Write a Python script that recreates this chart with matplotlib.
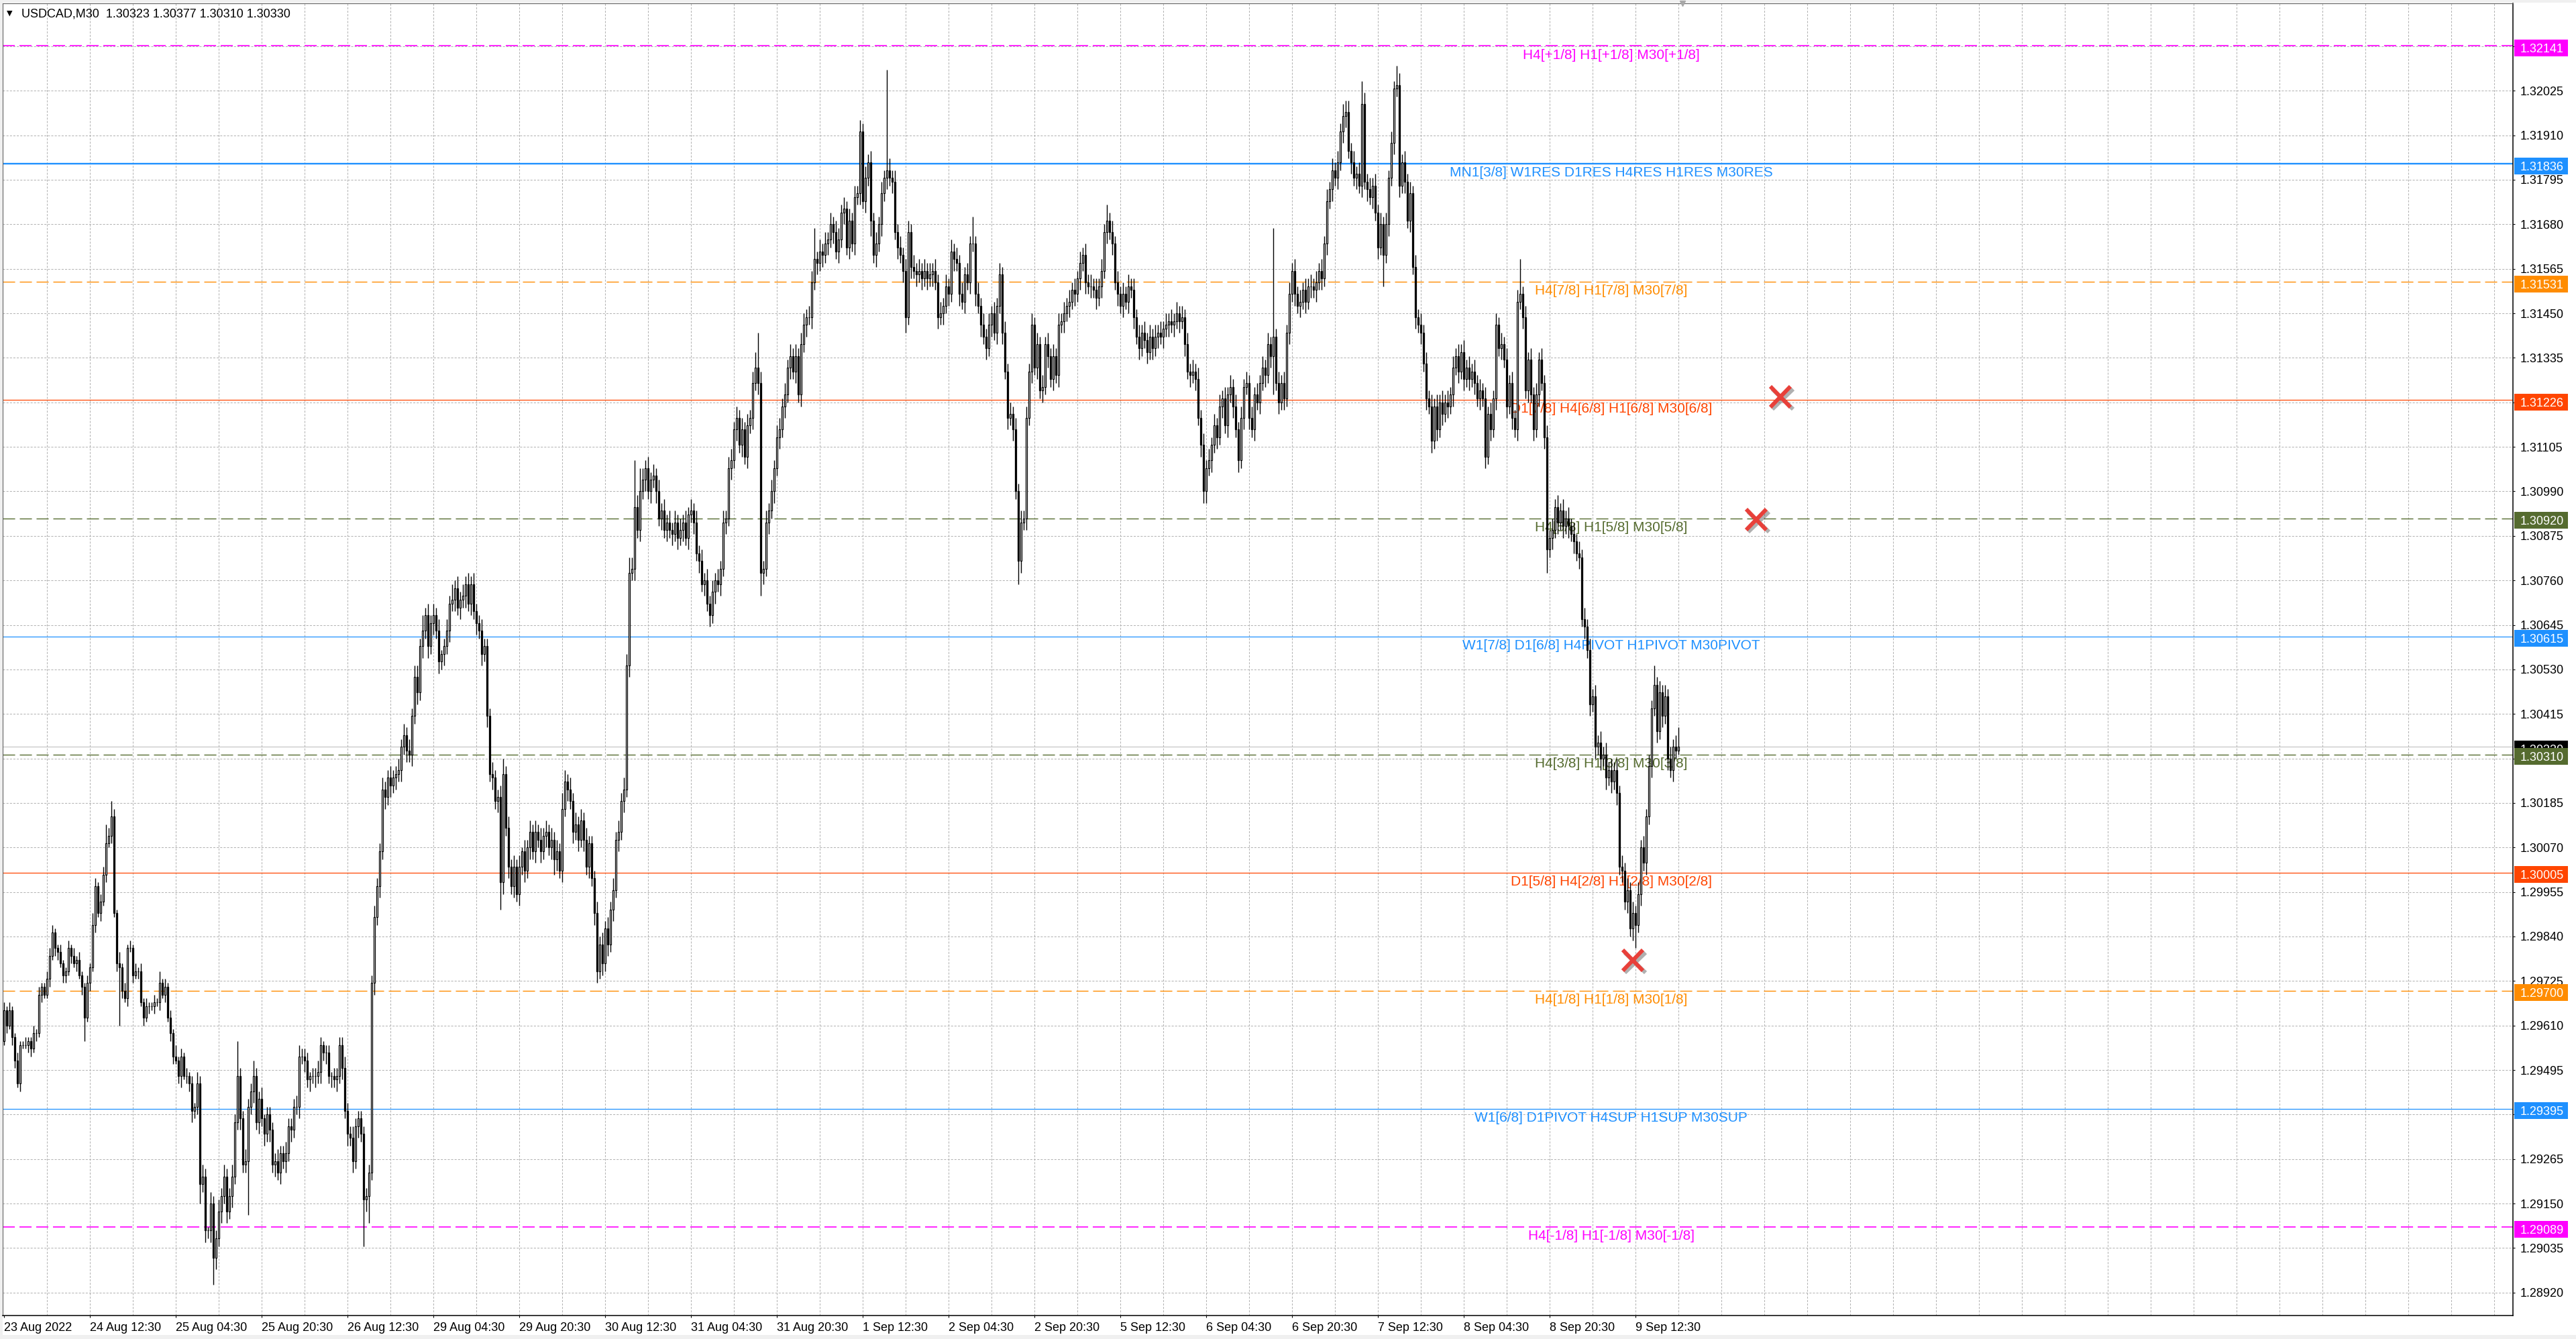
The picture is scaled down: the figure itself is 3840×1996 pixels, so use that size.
import numpy as np
import matplotlib
matplotlib.use("Agg")
import matplotlib.pyplot as plt
import matplotlib.transforms as mtransforms
import matplotlib.patheffects as pe
from matplotlib.patches import Rectangle
from matplotlib.collections import LineCollection

plt.rcParams['font.family'] = ['Liberation Sans', 'DejaVu Sans']
plt.rcParams['lines.scale_dashes'] = False

# ---------------- data ----------------
header = "USDCAD,M30  1.30323 1.30377 1.30310 1.30330"

# M30 closes in pips above 1.28000 (bar 0 = 23 Aug 20:30)
first_open = 157
close_pips = [
    165, 161, 165, 158, 152, 146, 156, 156, 156, 157, 155, 159, 159, 169, 171, 169, 173, 179, 185, 181, 180, 177, 174, 175, 181,
    179, 177, 178, 174, 171, 163, 172, 176, 187, 197, 190, 193, 200, 208, 210, 215, 190, 177, 176, 170, 168, 181, 181, 174, 175,
    175, 167, 163, 166, 166, 166, 167, 167, 172, 169, 171, 163, 159, 153, 152, 148, 153, 148, 148, 146, 139, 140, 146, 120, 122,
    108, 108, 115, 101, 106, 113, 117, 122, 113, 117, 122, 136, 148, 137, 125, 126, 140, 144, 148, 136, 142, 137, 133, 138, 134,
    125, 126, 123, 128, 126, 128, 135, 134, 140, 140, 153, 153, 152, 147, 148, 148, 148, 149, 156, 154, 154, 148, 148, 147, 148,
    156, 150, 139, 133, 132, 126, 135, 137, 133, 116, 117, 123, 172, 189, 197, 206, 222, 220, 225, 223, 225, 226, 227, 233, 236,
    232, 231, 241, 251, 247, 259, 263, 267, 259, 265, 267, 263, 255, 257, 259, 263, 270, 271, 274, 269, 271, 272, 275, 270, 275,
    268, 265, 263, 257, 259, 241, 226, 225, 219, 220, 198, 226, 212, 202, 197, 202, 195, 202, 206, 201, 207, 211, 206, 211, 209,
    206, 210, 211, 207, 209, 204, 206, 201, 217, 224, 222, 219, 211, 213, 209, 214, 209, 202, 208, 199, 190, 175, 182, 177, 186,
    182, 191, 196, 209, 211, 219, 222, 254, 278, 279, 295, 289, 299, 302, 305, 299, 302, 303, 299, 292, 294, 289, 291, 289, 288,
    291, 287, 289, 291, 287, 293, 294, 291, 283, 281, 275, 276, 270, 267, 273, 276, 275, 279, 291, 292, 305, 307, 315, 318, 311,
    315, 308, 316, 318, 327, 331, 327, 278, 279, 291, 294, 299, 305, 313, 315, 321, 324, 331, 334, 330, 334, 324, 337, 342, 344,
    344, 353, 359, 358, 361, 360, 363, 364, 368, 366, 361, 364, 371, 372, 362, 369, 363, 375, 376, 392, 374, 380, 384, 369, 360,
    363, 368, 376, 380, 382, 380, 379, 366, 362, 360, 356, 344, 366, 357, 356, 355, 356, 354, 356, 354, 355, 356, 353, 344, 345,
    347, 352, 350, 361, 359, 358, 350, 348, 355, 353, 363, 363, 350, 347, 342, 339, 336, 342, 345, 340, 347, 355, 340, 330, 318,
    319, 315, 299, 281, 291, 292, 318, 330, 342, 331, 337, 325, 326, 337, 334, 328, 334, 329, 342, 343, 345, 347, 348, 351, 350,
    354, 358, 360, 353, 352, 352, 351, 349, 352, 356, 366, 369, 366, 363, 353, 350, 347, 350, 348, 352, 351, 344, 339, 336, 340,
    338, 335, 339, 336, 339, 340, 339, 341, 342, 343, 342, 343, 345, 343, 344, 337, 330, 329, 330, 328, 318, 311, 299, 305, 307,
    311, 316, 313, 321, 323, 316, 324, 326, 321, 315, 307, 318, 326, 327, 318, 315, 324, 322, 327, 331, 329, 337, 334, 339, 327,
    322, 327, 323, 340, 350, 356, 350, 347, 348, 351, 348, 352, 352, 351, 353, 356, 354, 363, 374, 377, 382, 380, 384, 392, 396,
    397, 387, 384, 380, 381, 378, 399, 379, 377, 375, 378, 371, 362, 368, 360, 368, 380, 389, 403, 404, 378, 384, 379, 369, 376,
    357, 344, 342, 340, 332, 323, 321, 312, 321, 315, 322, 319, 322, 321, 324, 331, 334, 330, 335, 328, 331, 328, 330, 327, 323,
    325, 323, 308, 319, 315, 323, 342, 336, 337, 333, 321, 327, 318, 315, 348, 350, 344, 325, 333, 324, 315, 324, 333, 327, 313,
    284, 287, 289, 295, 291, 294, 290, 292, 290, 288, 286, 283, 282, 266, 264, 258, 244, 246, 233, 234, 230, 231, 225, 227, 224,
    227, 221, 202, 201, 193, 196, 186, 190, 187, 195, 207, 203, 215, 228, 243, 249, 237, 247, 241, 246, 230, 227, 233, 232, 233,
]

# wick lengths beyond the candle body, in pips
upper_wick = [
    2, 1, 2, 1, 1, 2, 1, 1, 2, 1, 1, 2, 1, 2, 1, 1, 2, 2, 2, 1, 1, 2, 1, 1, 2,
    1, 2, 1, 2, 1, 1, 2, 1, 3, 2, 1, 2, 2, 5, 2, 4, 2, 1, 3, 1, 2, 1, 2, 1, 2,
    1, 2, 1, 2, 1, 1, 2, 1, 3, 1, 2, 1, 2, 1, 3, 1, 2, 1, 2, 1, 2, 1, 3, 2, 3,
    2, 1, 3, 2, 2, 3, 2, 3, 2, 2, 3, 2, 9, 2, 2, 3, 2, 2, 4, 2, 2, 3, 1, 2, 2,
    2, 2, 3, 2, 2, 3, 2, 2, 2, 3, 3, 2, 2, 2, 1, 2, 2, 3, 2, 1, 2, 2, 1, 2, 2,
    2, 2, 3, 2, 2, 3, 2, 2, 2, 2, 2, 2, 2, 3, 2, 2, 3, 2, 2, 3, 2, 2, 3, 2, 3,
    2, 3, 2, 3, 3, 2, 4, 2, 3, 2, 3, 2, 3, 1, 2, 3, 2, 4, 2, 3, 2, 3, 2, 3, 2,
    3, 2, 2, 3, 2, 2, 2, 3, 2, 2, 3, 4, 2, 3, 2, 3, 2, 3, 1, 3, 2, 3, 2, 3, 2,
    3, 2, 3, 2, 3, 2, 3, 2, 4, 3, 2, 3, 2, 3, 2, 3, 2, 3, 2, 2, 2, 3, 2, 3, 2,
    3, 2, 3, 2, 3, 2, 3, 3, 4, 3, 12, 3, 6, 3, 2, 3, 2, 3, 2, 3, 2, 3, 2, 3, 2,
    3, 2, 3, 2, 3, 2, 3, 2, 3, 2, 3, 2, 3, 2, 3, 2, 3, 2, 3, 2, 3, 3, 2, 3, 2,
    3, 2, 3, 2, 3, 4, 9, 3, 2, 3, 2, 3, 2, 3, 3, 2, 3, 2, 3, 2, 3, 2, 3, 3, 2,
    3, 3, 8, 2, 3, 2, 3, 2, 3, 2, 3, 3, 2, 3, 2, 3, 2, 3, 2, 3, 2, 3, 2, 3, 2,
    3, 2, 3, 2, 26, 3, 2, 3, 2, 3, 2, 3, 3, 2, 3, 2, 3, 2, 3, 2, 3, 2, 3, 2, 3,
    2, 3, 2, 3, 2, 3, 2, 3, 2, 3, 2, 7, 2, 3, 2, 3, 2, 3, 2, 3, 2, 3, 2, 3, 2,
    3, 2, 3, 2, 3, 2, 3, 2, 3, 2, 3, 2, 3, 2, 3, 2, 3, 2, 3, 2, 3, 2, 3, 2, 3,
    2, 3, 2, 3, 2, 3, 2, 3, 2, 3, 2, 4, 2, 3, 2, 3, 2, 3, 2, 3, 2, 3, 2, 3, 2,
    3, 2, 3, 2, 3, 2, 3, 2, 3, 2, 3, 2, 3, 2, 3, 2, 3, 2, 3, 2, 3, 2, 3, 2, 3,
    2, 3, 2, 3, 2, 3, 2, 3, 2, 3, 2, 3, 2, 3, 2, 3, 2, 3, 2, 3, 2, 3, 2, 28, 2,
    3, 2, 3, 2, 3, 2, 3, 2, 3, 2, 3, 2, 3, 2, 3, 2, 3, 2, 3, 2, 3, 2, 3, 2, 3,
    3, 3, 2, 3, 2, 3, 6, 3, 2, 3, 2, 3, 2, 3, 2, 3, 2, 3, 2, 5, 3, 2, 3, 2, 3,
    2, 3, 2, 3, 2, 3, 2, 3, 2, 3, 2, 3, 2, 3, 2, 3, 2, 3, 2, 3, 2, 3, 2, 3, 2,
    3, 2, 3, 2, 3, 2, 3, 2, 3, 2, 3, 2, 3, 2, 3, 9, 2, 3, 2, 3, 2, 3, 2, 3, 2,
    3, 2, 3, 2, 3, 2, 3, 2, 3, 2, 3, 2, 3, 2, 3, 2, 3, 2, 3, 2, 3, 2, 3, 2, 3,
    2, 3, 2, 3, 2, 3, 2, 3, 2, 3, 2, 3, 2, 3, 2, 5, 2, 3, 2, 3, 2, 3, 2, 3, 5,
]
lower_wick = [
    1, 2, 1, 2, 2, 1, 2, 1, 1, 2, 2, 1, 2, 1, 2, 1, 1, 2, 1, 2, 2, 1, 2, 2, 1,
    2, 1, 2, 1, 2, 6, 1, 2, 1, 2, 1, 2, 1, 2, 1, 2, 1, 2, 15, 2, 1, 2, 1, 2, 1,
    2, 1, 2, 1, 2, 1, 2, 1, 2, 1, 2, 1, 2, 2, 1, 2, 3, 1, 2, 2, 3, 2, 2, 5, 2,
    3, 2, 3, 7, 3, 2, 3, 2, 3, 2, 3, 2, 2, 3, 2, 2, 14, 2, 3, 2, 3, 2, 3, 2, 3,
    2, 3, 2, 3, 2, 3, 2, 3, 2, 2, 3, 2, 3, 2, 3, 2, 3, 2, 3, 2, 3, 2, 3, 2, 3,
    2, 3, 2, 3, 2, 3, 2, 3, 2, 12, 3, 7, 2, 3, 2, 3, 2, 3, 2, 3, 2, 3, 2, 3, 2,
    3, 2, 3, 2, 3, 2, 3, 2, 3, 2, 3, 2, 3, 2, 3, 2, 3, 2, 3, 2, 3, 2, 3, 2, 3,
    2, 3, 2, 3, 2, 3, 2, 3, 2, 3, 7, 3, 2, 3, 2, 3, 2, 3, 2, 3, 2, 3, 2, 3, 2,
    3, 2, 3, 2, 3, 4, 3, 2, 3, 2, 3, 2, 3, 2, 3, 2, 3, 2, 3, 2, 3, 3, 2, 3, 2,
    3, 2, 3, 2, 3, 2, 3, 2, 3, 2, 3, 2, 3, 2, 3, 2, 3, 2, 3, 2, 3, 2, 3, 2, 3,
    2, 3, 2, 3, 2, 3, 2, 3, 2, 3, 2, 3, 2, 3, 2, 3, 2, 3, 2, 3, 2, 3, 2, 3, 2,
    3, 2, 3, 2, 3, 2, 3, 6, 3, 2, 3, 2, 3, 2, 3, 2, 3, 2, 3, 2, 3, 2, 3, 2, 3,
    2, 3, 2, 3, 2, 3, 2, 3, 2, 3, 2, 3, 2, 3, 2, 3, 2, 3, 2, 3, 2, 3, 2, 4, 2,
    3, 2, 3, 2, 3, 2, 3, 2, 3, 2, 3, 4, 2, 3, 2, 3, 2, 3, 2, 3, 2, 3, 2, 3, 2,
    3, 2, 3, 2, 3, 2, 3, 2, 3, 2, 3, 2, 3, 2, 3, 2, 3, 2, 3, 2, 3, 2, 3, 2, 3,
    2, 3, 2, 6, 3, 2, 3, 2, 3, 2, 3, 2, 3, 2, 3, 2, 3, 2, 3, 2, 3, 2, 3, 2, 3,
    2, 3, 2, 3, 2, 3, 2, 3, 2, 3, 2, 3, 2, 3, 2, 3, 2, 3, 2, 3, 2, 3, 2, 3, 2,
    2, 3, 2, 3, 2, 3, 2, 3, 2, 3, 2, 3, 2, 3, 2, 3, 2, 3, 2, 3, 2, 3, 3, 3, 2,
    3, 2, 3, 2, 3, 2, 3, 2, 3, 2, 3, 2, 3, 2, 3, 2, 3, 2, 3, 2, 3, 2, 3, 10, 2,
    3, 2, 3, 2, 3, 2, 3, 2, 3, 2, 3, 2, 3, 2, 3, 2, 3, 2, 3, 2, 3, 2, 3, 2, 3,
    3, 2, 3, 2, 3, 2, 3, 2, 3, 2, 3, 2, 3, 2, 8, 2, 3, 2, 3, 2, 3, 2, 3, 2, 3,
    2, 3, 2, 3, 2, 3, 2, 3, 2, 3, 2, 3, 2, 3, 2, 3, 2, 3, 2, 3, 2, 3, 2, 3, 2,
    3, 2, 3, 2, 3, 2, 3, 2, 3, 2, 3, 2, 3, 2, 3, 2, 3, 2, 3, 2, 3, 2, 3, 2, 3,
    6, 2, 3, 2, 3, 2, 3, 2, 3, 2, 3, 2, 3, 2, 3, 2, 3, 2, 3, 2, 3, 2, 3, 2, 3,
    2, 3, 2, 3, 2, 3, 2, 3, 6, 2, 3, 2, 3, 2, 3, 2, 3, 2, 3, 2, 3, 2, 3, 2, 1,
]

bid_price = 1.30330
level_prices = [1.32141, 1.31836, 1.31531, 1.31226, 1.30920, 1.30615,
                1.30310, 1.30005, 1.29700, 1.29395, 1.29089]
level_labels = [
    "H4[+1/8] H1[+1/8] M30[+1/8]",
    "MN1[3/8] W1RES D1RES H4RES H1RES M30RES",
    "H4[7/8] H1[7/8] M30[7/8]",
    "D1[7/8] H4[6/8] H1[6/8] M30[6/8]",
    "H4[5/8] H1[5/8] M30[5/8]",
    "W1[7/8] D1[6/8] H4PIVOT H1PIVOT M30PIVOT",
    "H4[3/8] H1[3/8] M30[3/8]",
    "D1[5/8] H4[2/8] H1[2/8] M30[2/8]",
    "H4[1/8] H1[1/8] M30[1/8]",
    "W1[6/8] D1PIVOT H4SUP H1SUP M30SUP",
    "H4[-1/8] H1[-1/8] M30[-1/8]",
]

time_labels = ["23 Aug 2022", "24 Aug 12:30", "25 Aug 04:30", "25 Aug 20:30", "26 Aug 12:30",
               "29 Aug 04:30", "29 Aug 20:30", "30 Aug 12:30", "31 Aug 04:30", "31 Aug 20:30",
               "1 Sep 12:30", "2 Sep 04:30", "2 Sep 20:30", "5 Sep 12:30", "6 Sep 04:30",
               "6 Sep 20:30", "7 Sep 12:30", "8 Sep 04:30", "8 Sep 20:30", "9 Sep 12:30"]

price_ticks = [1.28920, 1.29035, 1.29150, 1.29265, 1.29380, 1.29495, 1.29610, 1.29725,
               1.29840, 1.29955, 1.30070, 1.30185, 1.30300, 1.30415, 1.30530, 1.30645,
               1.30760, 1.30875, 1.30990, 1.31105, 1.31220, 1.31335, 1.31450, 1.31565,
               1.31680, 1.31795, 1.31910, 1.32025, 1.32140]
price_tick_labels = ["1.28920", "1.29035", "1.29150", "1.29265", "", "1.29495", "1.29610", "1.29725",
                     "1.29840", "1.29955", "1.30070", "1.30185", "", "1.30415", "1.30530", "1.30645",
                     "1.30760", "1.30875", "1.30990", "1.31105", "", "1.31335", "1.31450", "1.31565",
                     "1.31680", "1.31795", "1.31910", "1.32025", ""]

cross_bars = [662, 653, 607]
cross_prices = [1.31234, 1.30917, 1.29778]

# ---------------- styles ----------------
MAG, BLUE, ORG, RED, OLV = '#FF00FF', '#1E90FF', '#FF8C00', '#FF4500', '#556B2F'
level_colors = [MAG, BLUE, ORG, RED, OLV, BLUE, OLV, RED, ORG, BLUE, MAG]
level_dashed = [True, False, True, False, True, False, True, False, True, False, True]
level_lw = [1.2, 1.7, 1.0, 0.9, 1.0, 0.9, 1.0, 0.9, 1.0, 0.9, 1.2]
label_bar = 599

W, H = 3840, 1996
fig = plt.figure(figsize=(W / 100, H / 100), dpi=100, facecolor='#f0f0f0')
fig.patches.append(Rectangle((4 / W, 6 / H), 1 - 4 / W, (1990 - 4) / H, transform=fig.transFigure,
                             facecolor='white', edgecolor='none', zorder=-5))

ax_l, ax_r, ax_t, ax_b = 4, 3746, 5, 1961
ax = fig.add_axes([ax_l / W, (H - ax_b) / H, (ax_r - ax_l) / W, (ax_b - ax_t) / H])
ax.set_facecolor('white')
ax.set_xlim(-0.45, 935.05)
ax.set_ylim(1.288607, 1.322508)

# candles
c = 1.28 + np.array(close_pips) / 1e4
o = np.r_[1.28 + first_open / 1e4, c[:-1]]
n = len(c)
hi = np.maximum(o, c) + np.array(upper_wick[:n]) / 1e4
lo = np.minimum(o, c) - np.array(lower_wick[:n]) / 1e4
x = np.arange(n)
segs = [[(i, l), (i, h)] for i, l, h in zip(x, lo, hi)]
ax.add_collection(LineCollection(segs, colors='black', linewidths=1.0, zorder=3))
bull = c >= o
ax.bar(x, np.abs(c - o), bottom=np.minimum(o, c), width=0.62,
       color=np.where(bull, 'white', 'black'), edgecolor='black', linewidth=0.9, zorder=4)

# grid
grid_kw = dict(color='#b4b4b4', lw=0.75, ls=(0, (2.2, 1.5)))
ax.set_axisbelow(True)
ax.grid(axis='y', **grid_kw)
for b in range(16, 936, 16):
    ax.axvline(b, zorder=0.5, **grid_kw)

# level lines and labels
for p, lab, col, dashed, lwid in zip(level_prices, level_labels, level_colors, level_dashed, level_lw):
    ax.axhline(p, color=col, lw=lwid, ls=(0, (13, 5)) if dashed else '-', zorder=1.5)
    ax.annotate(lab, xy=(label_bar, p), xytext=(0, -3), textcoords='offset points',
                ha='center', va='top', color=col, fontsize=15, zorder=2)
ax.axhline(bid_price, color='#c0c0c0', lw=0.8, zorder=1.4)

# price boxes on the right scale
trans = mtransforms.blended_transform_factory(ax.transAxes, ax.transData)
y0, y1 = ax.get_ylim()
dpp = (y1 - y0) / (ax_b - ax_t)
bh = 25 * dpp
shift = 3 * dpp
span = ax_r - ax_l
bx0, bw, tx = (3748 - ax_l) / span, 80 / span, (3757 - ax_l) / span
boxes = [(bid_price, 'black')] + list(zip(level_prices, level_colors))
for k, (p, col) in enumerate(boxes):
    z = 10 + 2 * k
    ax.add_patch(Rectangle((bx0, p - shift - bh / 2), bw, bh, transform=trans, facecolor=col,
                           edgecolor='none', clip_on=False, zorder=z))
    ax.text(tx, p - shift, f"{p:.5f}", transform=trans, color='white', fontsize=13,
            va='center_baseline', ha='left', clip_on=False, zorder=z + 1)

# axes and ticks
for s in ('left', 'top'):
    ax.spines[s].set_color('#606060')
    ax.spines[s].set_linewidth(0.8)
for s in ('right', 'bottom'):
    ax.spines[s].set_color('black')
    ax.spines[s].set_linewidth(1.1)
ax.set_xticks(np.arange(0, 32 * len(time_labels), 32))
ax.set_xticklabels(time_labels, fontsize=13, ha='left')
ax.tick_params(axis='x', direction='out', length=2.5, width=0.8, pad=5)
ax.yaxis.tick_right()
ax.set_yticks(price_ticks)
ax.set_yticklabels(price_tick_labels, fontsize=13)
ax.tick_params(axis='y', direction='out', length=2.5, width=0.8, pad=5, right=True, left=False)

# red crosses
ax.plot(cross_bars, cross_prices, ls='none', marker='x', ms=22, mew=4.3, color='#e8403a',
        zorder=30, clip_on=False,
        path_effects=[pe.SimpleLineShadow(offset=(2.5, -2.5), shadow_color='#505050', alpha=0.45),
                      pe.Normal()])

# chart shift marker at top
ax.plot([n + 0.5], [y1], marker='v', ms=6, color='#a8a8a8', clip_on=False, zorder=31)

# header
fig.text(10 / W, 1 - 23 / H, '\u25bc', fontsize=8, family='DejaVu Sans', va='baseline')
fig.text(32 / W, 1 - 26 / H, header, fontsize=13, va='baseline')

fig.savefig('out.png', dpi=100, facecolor=fig.get_facecolor())
